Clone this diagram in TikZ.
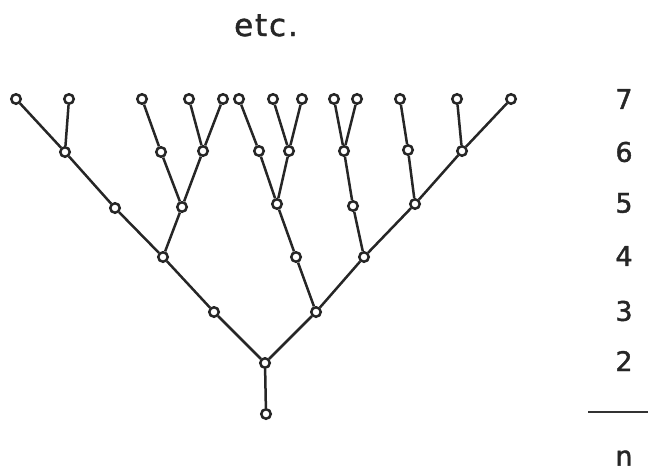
\documentclass[tikz,border=0pt]{standalone}
\usepackage{fontspec}
\setmainfont[FakeBold=1.5]{DejaVu Sans}
\newfontfamily\etcfont[LetterSpace=6,FakeBold=1.5]{DejaVu Sans}
\begin{document}
\begin{tikzpicture}[x=1pt,y=-1pt,
  bud/.style={circle,draw=black!85,fill=white,line width=2.5pt,inner sep=0pt,minimum size=9.5pt},
  twig/.style={draw=black!85,line width=2.5pt},
  gen/.style={font=\fontsize{27}{27}\selectfont,text=black!85,anchor=center}]
\useasboundingbox (0,0) rectangle (648,471);

% generation 1 and 2
\node[bud] (a1) at (266,414) {};
\node[bud] (b1) at (265,363) {};
% generation 3
\node[bud] (c1) at (214,312) {};
\node[bud] (c2) at (316,312) {};
% generation 4
\node[bud] (d1) at (163,257) {};
\node[bud] (d2) at (296,257) {};
\node[bud] (d3) at (364,257) {};
% generation 5
\node[bud] (e1) at (115,208) {};
\node[bud] (e2) at (182,207) {};
\node[bud] (e3) at (277,204) {};
\node[bud] (e4) at (353,206) {};
\node[bud] (e5) at (415,204) {};
% generation 6
\node[bud] (f1) at (65,152) {};
\node[bud] (f2) at (161,152) {};
\node[bud] (f3) at (203,151) {};
\node[bud] (f4) at (259,151) {};
\node[bud] (f5) at (289,151) {};
\node[bud] (f6) at (344,151) {};
\node[bud] (f7) at (408,150) {};
\node[bud] (f8) at (462,151) {};
% generation 7
\node[bud] (g1) at (16,99) {};
\node[bud] (g2) at (69,99) {};
\node[bud] (g3) at (142,99) {};
\node[bud] (g4) at (189,99) {};
\node[bud] (g5) at (223,99) {};
\node[bud] (g6) at (239,99) {};
\node[bud] (g7) at (273,99) {};
\node[bud] (g8) at (302,99) {};
\node[bud] (g9) at (334,99) {};
\node[bud] (g10) at (357,99) {};
\node[bud] (g11) at (400,99) {};
\node[bud] (g12) at (457,99) {};
\node[bud] (g13) at (511,99) {};

% branches
\foreach \p/\c in {a1/b1, b1/c1, b1/c2, c1/d1, c2/d2, c2/d3,
  d1/e1, d1/e2, d2/e3, d3/e4, d3/e5,
  e1/f1, e2/f2, e2/f3, e3/f4, e3/f5, e4/f6, e5/f7, e5/f8,
  f1/g1, f1/g2, f2/g3, f3/g4, f3/g5, f4/g6, f5/g7, f5/g8,
  f6/g9, f6/g10, f7/g11, f8/g12, f8/g13}
  \draw[twig] (\p) -- (\c);

% generation scale
\node[gen] (n7) at (624,99) {7};
\node[gen] (n6) at (624,152) {6};
\node[gen] (n5) at (624,203) {5};
\node[gen] (n4) at (624,256) {4};
\node[gen] (n3) at (624,311) {3};
\node[gen] (n2) at (624,361) {2};
\coordinate (rl) at (588,412);
\coordinate (rr) at (648,412);
\draw[draw=black!80,line width=1.8pt] (rl) -- (rr);
\node[gen] (nn) at (624,458) {n};

\node[font=\etcfont\fontsize{31}{31}\selectfont,text=black!85,anchor=base] (etc) at (266,36) {etc.};
\end{tikzpicture}
\end{document}
